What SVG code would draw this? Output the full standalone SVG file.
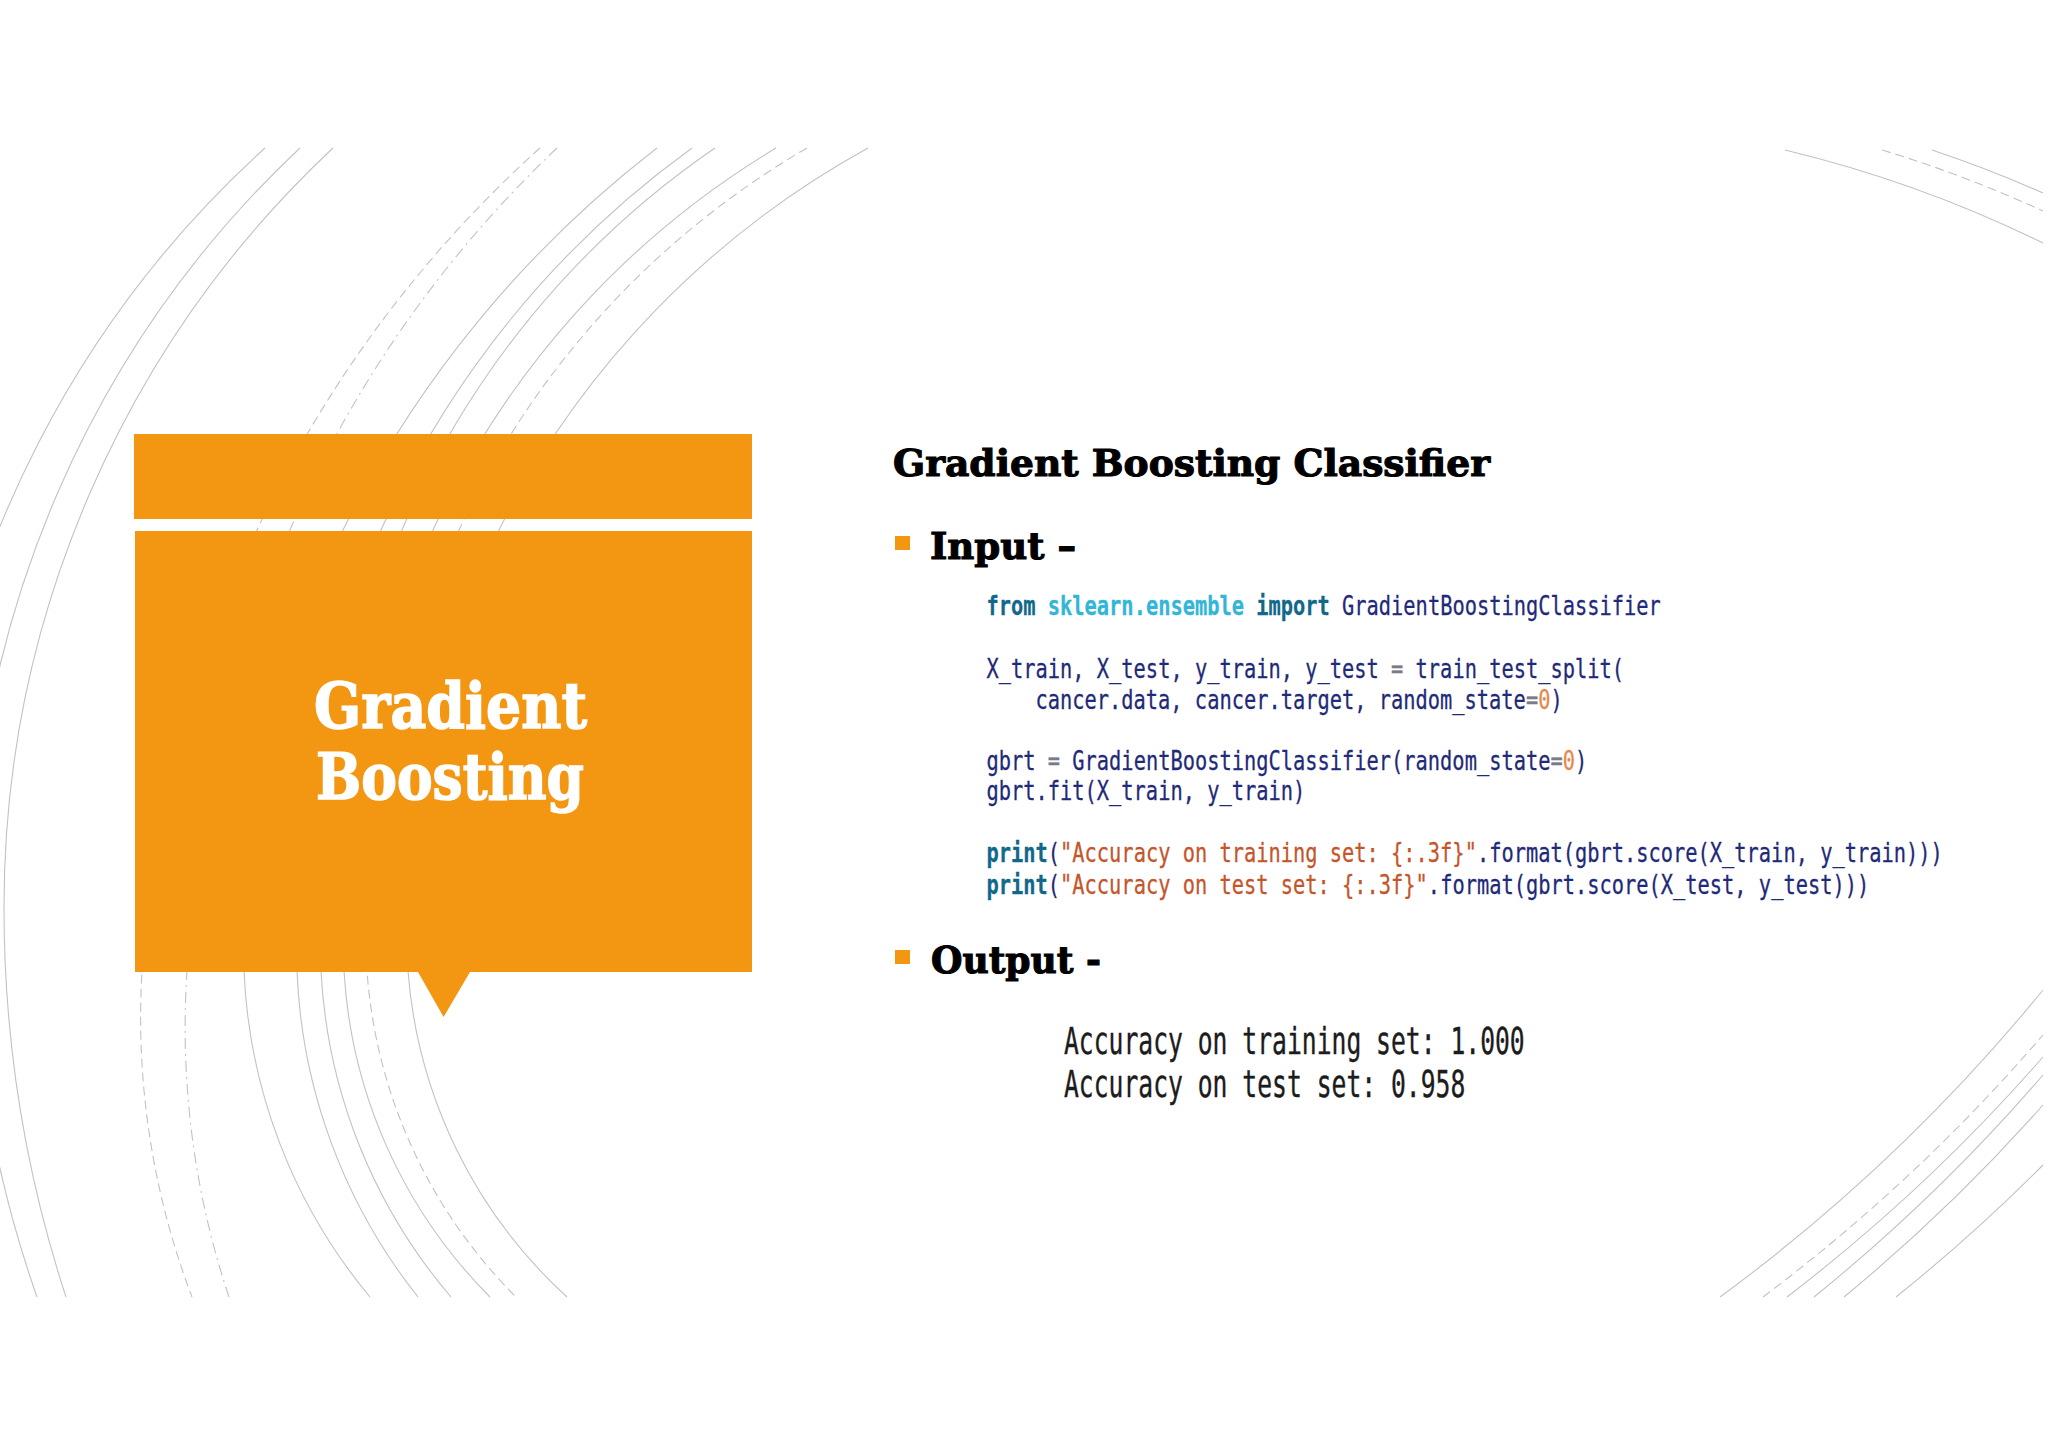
<svg xmlns="http://www.w3.org/2000/svg" width="2048" height="1448" viewBox="0 0 2048 1448">
<style>
.arc{fill:none;stroke:#c2c2c2;stroke-width:1.1}
.d{stroke-dasharray:9 5}
.dd{stroke-dasharray:11 5 2 5}
.o{fill:#f39612}
.h{font-family:"DejaVu Serif","Liberation Serif",serif;font-weight:700;font-size:37px;fill:#000;stroke:#000;stroke-width:1.1}
.t{font-family:"DejaVu Serif","Liberation Serif",serif;font-weight:700;font-size:63px;fill:#fff;stroke:#fff;stroke-width:1.6}
.c{font-family:"DejaVu Sans Mono","Liberation Mono",monospace;font-size:27px;fill:#1f2a78;stroke:#1f2a78;stroke-width:.3}
.out{font-family:"DejaVu Sans Mono","Liberation Mono",monospace;font-size:37px;fill:#1c1c1c;stroke:#1c1c1c;stroke-width:.4}
.k{fill:#12688a;stroke:#12688a;font-weight:700}
.m{fill:#33b6d6;stroke:#33b6d6;font-weight:700}
.s{fill:#c4562c;stroke:#c4562c}
.n{fill:#e8864a;stroke:#e8864a}
.g{fill:#7a7a8a;stroke:#7a7a8a}
</style>
<rect width="2048" height="1448" fill="#fff"/>
<g id="background-arcs">
<path class="arc" d="M265 148A1040 1040 0 0 0 -70 800"/>
<path class="arc" d="M300 148A1040 1040 0 0 0 -28 909A1150 1150 0 0 0 37 1297"/>
<path class="arc" d="M333 148A1040 1040 0 0 0 4 909A1250 1250 0 0 0 66 1297"/>
<path class="arc d" d="M540 148A1190 1190 0 0 0 257 530L142 971A786 786 0 0 0 192 1297"/>
<path class="arc dd" d="M557 148A1160 1160 0 0 0 290 530L187 971A850 850 0 0 0 229 1297"/>
<path class="arc" d="M657 148A1100 1100 0 0 0 343 530L244 971A545 545 0 0 0 370 1297"/>
<path class="arc" d="M692 148A950 950 0 0 0 381 530L297 971A560 560 0 0 0 418 1297"/>
<path class="arc" d="M715 148A880 880 0 0 0 402 530L321 971A545 545 0 0 0 451 1297"/>
<path class="arc" d="M776 148A870 870 0 0 0 433 530L344 971A503 503 0 0 0 490 1297"/>
<path class="arc d" d="M807 148A860 860 0 0 0 459 530L367 971A512 512 0 0 0 516 1297"/>
<path class="arc" d="M868 148A900 900 0 0 0 499 530L408 971A492 492 0 0 0 567 1297"/>
<path class="arc" d="M1785 150A1250 1250 0 0 1 2043 243"/>
<path class="arc d" d="M1882 150A1250 1250 0 0 1 2043 211"/>
<path class="arc" d="M1932 150A1250 1250 0 0 1 2043 193"/>
<path class="arc" d="M1720 1297A1768 1768 0 0 0 2043 990"/>
<path class="arc d" d="M1763 1297A1768 1768 0 0 0 2043 1035"/>
<path class="arc" d="M1787 1297A1768 1768 0 0 0 2043 1057"/>
<path class="arc" d="M1814 1297A1768 1768 0 0 0 2043 1075"/>
<path class="arc" d="M1844 1297A1768 1768 0 0 0 2043 1105"/>
<path class="arc" d="M1896 1297A1768 1768 0 0 0 2043 1165"/>
</g>
<g id="title-box">
<rect class="o" x="134" y="434" width="618" height="85"/>
<path class="o" d="M135 531H752V972H470L443.600 1017L418 972H135Z"/>
<text class="t" x="314" y="728" textLength="273" lengthAdjust="spacingAndGlyphs">Gradient</text>
<text class="t" x="316" y="799" textLength="268" lengthAdjust="spacingAndGlyphs">Boosting</text>
</g>
<g id="content-heading">
<text class="h" x="893" y="476" textLength="597" lengthAdjust="spacingAndGlyphs">Gradient Boosting Classifier</text>
</g>
<g id="input">
<rect class="o" x="895" y="536" width="15" height="14"/>
<text class="h" x="930" y="559" textLength="146" lengthAdjust="spacingAndGlyphs">Input –</text>
<g id="input-code">
<text class="c" transform="translate(986.500 614.500) scale(.7545 1)"><tspan class="k">from</tspan> <tspan class="m">sklearn.ensemble</tspan> <tspan class="k">import</tspan> GradientBoostingClassifier</text>
<text class="c" transform="translate(986.500 678) scale(.7545 1)">X_train, X_test, y_train, y_test <tspan class="g">=</tspan> train_test_split(</text>
<text class="c" transform="translate(1035.500 708.500) scale(.7545 1)">cancer.data, cancer.target, random_state<tspan class="g">=</tspan><tspan class="n">0</tspan>)</text>
<text class="c" transform="translate(986.500 769.500) scale(.7545 1)">gbrt <tspan class="g">=</tspan> GradientBoostingClassifier(random_state<tspan class="g">=</tspan><tspan class="n">0</tspan>)</text>
<text class="c" transform="translate(986.500 800) scale(.7545 1)">gbrt.fit(X_train, y_train)</text>
<text class="c" transform="translate(986.500 861.500) scale(.7545 1)"><tspan class="k">print</tspan>(<tspan class="s">"Accuracy on training set: {:.3f}"</tspan>.format(gbrt.score(X_train, y_train)))</text>
<text class="c" transform="translate(986.500 893.500) scale(.7545 1)"><tspan class="k">print</tspan>(<tspan class="s">"Accuracy on test set: {:.3f}"</tspan>.format(gbrt.score(X_test, y_test)))</text>
</g>
</g>
<g id="output">
<rect class="o" x="895" y="950" width="15" height="14"/>
<text class="h" x="931" y="973" textLength="170" lengthAdjust="spacingAndGlyphs">Output -</text>
<text class="out" transform="translate(1064 1054) scale(.6676 1)">Accuracy on training set: 1.000</text>
<text class="out" transform="translate(1064 1097) scale(.6676 1)">Accuracy on test set: 0.958</text>
</g>
</svg>
